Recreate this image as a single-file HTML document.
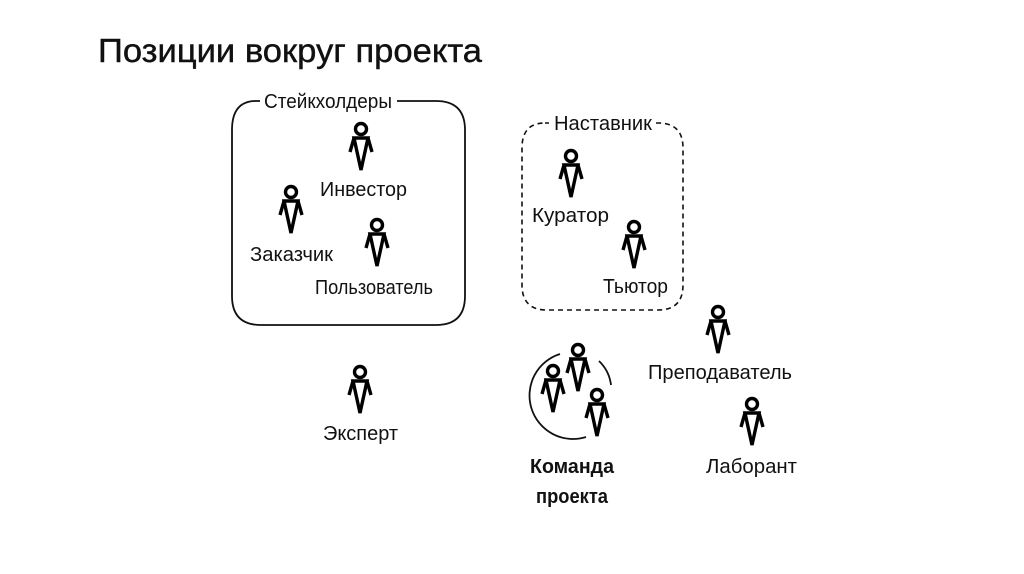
<!DOCTYPE html>
<html><head><meta charset="utf-8"><style>
html,body{margin:0;padding:0;background:#fff;}
body{width:1024px;height:574px;overflow:hidden;position:relative;}
svg{position:absolute;left:0;top:0;}
text{font-family:"Liberation Sans",sans-serif;fill:#111;}
</style></head><body>
<svg width="1024" height="574" viewBox="0 0 1024 574">
<defs>
<g id="p" fill="none" stroke="#000" stroke-width="3.4" stroke-linejoin="miter">
<circle cx="0" cy="0" r="5.5"/>
<path d="M-7 9 L7 9 L0 41 Z"/>
<path d="M-7 9 L-11 23 M7 9 L11 23"/>
</g>
</defs>
<text x="98" y="62" font-size="33" textLength="384" lengthAdjust="spacingAndGlyphs" stroke="#111" stroke-width="0.4">Позиции вокруг проекта</text>

<path d="M256 101 H260 M397 101 H436 Q465 101 465 130 V296 Q465 325 436 325 H261 Q232 325 232 296 V130 Q232 101 256 101" fill="none" stroke="#111" stroke-width="1.8"/>
<text x="264" y="108" font-size="20" textLength="128" lengthAdjust="spacingAndGlyphs">Стейкхолдеры</text>

<path d="M545 123 H549 M656 123 H658 Q683 123 683 148 V285 Q683 310 658 310 H547 Q522 310 522 285 V148 Q522 123 545 123" fill="none" stroke="#111" stroke-width="1.6" stroke-dasharray="5,4"/>
<text x="554" y="130" font-size="20" textLength="98" lengthAdjust="spacingAndGlyphs">Наставник</text>

<use href="#p" x="361" y="129"/>
<use href="#p" x="291" y="192"/>
<use href="#p" x="377" y="225"/>
<use href="#p" x="571" y="156"/>
<use href="#p" x="634" y="227"/>
<use href="#p" x="718" y="312"/>
<use href="#p" x="360" y="372"/>
<use href="#p" x="752" y="404"/>
<use href="#p" x="553" y="371"/>
<use href="#p" x="578" y="350"/>
<use href="#p" x="597" y="395"/>

<path d="M560 354 A40 40 0 0 0 586 437" fill="none" stroke="#111" stroke-width="1.8"/>
<path d="M599 361 A40 40 0 0 1 611 385" fill="none" stroke="#111" stroke-width="1.8"/>

<g font-size="20">
<text x="320" y="196" textLength="87" lengthAdjust="spacingAndGlyphs">Инвестор</text>
<text x="250" y="261" textLength="83" lengthAdjust="spacingAndGlyphs">Заказчик</text>
<text x="315" y="294" textLength="118" lengthAdjust="spacingAndGlyphs">Пользователь</text>
<text x="532" y="222" textLength="77" lengthAdjust="spacingAndGlyphs">Куратор</text>
<text x="603" y="293" textLength="65" lengthAdjust="spacingAndGlyphs">Тьютор</text>
<text x="648" y="379" textLength="144" lengthAdjust="spacingAndGlyphs">Преподаватель</text>
<text x="323" y="440" textLength="75" lengthAdjust="spacingAndGlyphs">Эксперт</text>
<text x="706" y="473" textLength="91" lengthAdjust="spacingAndGlyphs">Лаборант</text>
<text x="572" y="473" text-anchor="middle" font-weight="bold" textLength="84" lengthAdjust="spacingAndGlyphs">Команда</text>
<text x="572" y="503" text-anchor="middle" font-weight="bold" textLength="72" lengthAdjust="spacingAndGlyphs">проекта</text>
</g>
</svg>
</body></html>
